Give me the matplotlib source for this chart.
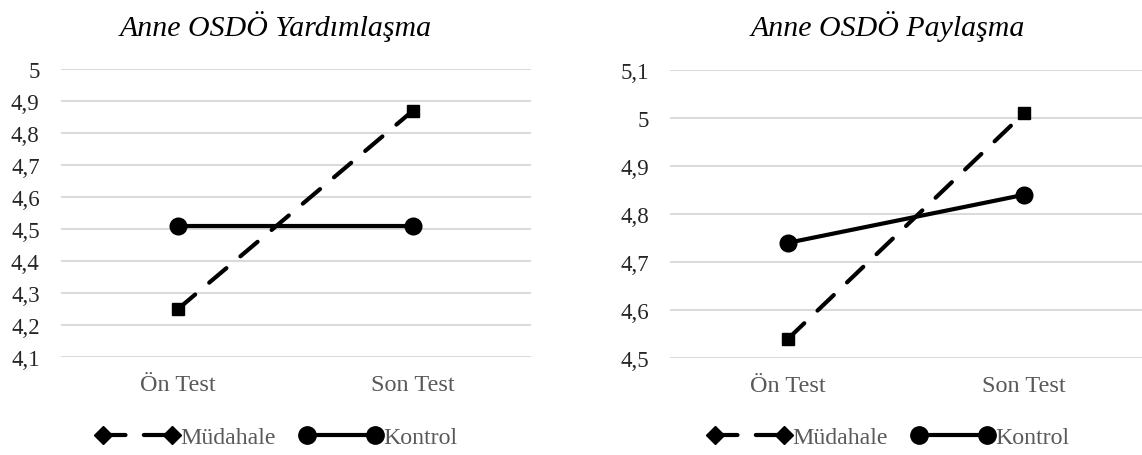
# coding=utf8
import matplotlib
matplotlib.use('Agg')
import matplotlib.pyplot as plt
from matplotlib.lines import Line2D
from matplotlib.ticker import FuncFormatter, MultipleLocator

plt.rcParams['font.family'] = ['Liberation Serif', 'DejaVu Serif']

categories = ['Ön Test', 'Son Test']
series_names = ['Müdahale', 'Kontrol']

yardim_mudahale = [4.25, 4.87]
yardim_kontrol = [4.51, 4.51]
yardim_ticks = [4.1, 4.2, 4.3, 4.4, 4.5, 4.6, 4.7, 4.8, 4.9, 5.0]

paylas_mudahale = [4.54, 5.01]
paylas_kontrol = [4.74, 4.84]
paylas_ticks = [4.5, 4.6, 4.7, 4.8, 4.9, 5.0, 5.1]

titles = ['Anne OSDÖ Yardımlaşma', 'Anne OSDÖ Paylaşma']

W, H = 1142, 456
fig = plt.figure(figsize=(W / 100, H / 100), dpi=100)

DASH = (0, (5.4, 4.4))
LW = 3.0


def comma_fmt(v, pos):
    s = '%.1f' % v
    if s.endswith('.0'):
        s = s[:-2]
    return s.replace('.', ',')


def draw_panel(rect, mud, kon, ticks, title, title_x, legend_x):
    ax = fig.add_axes(rect)
    x = [0, 1]
    ax.plot(x, mud, color='black', linewidth=LW, linestyle=DASH,
            dash_capstyle='round', marker='s', markersize=9, zorder=3)
    ax.plot(x, kon, color='black', linewidth=LW, marker='o',
            markersize=12, zorder=3)
    ax.set_xlim(-0.5, 1.5)
    ax.set_ylim(ticks[0], ticks[-1])
    ax.yaxis.set_major_locator(MultipleLocator(0.1))
    ax.yaxis.set_major_formatter(FuncFormatter(comma_fmt))
    ax.set_xticks(x)
    ax.set_xticklabels(categories)
    ax.grid(True, axis='y', color='#d9d9d9', linewidth=1.4)
    ax.set_axisbelow(True)
    for s in ax.spines.values():
        s.set_visible(False)
    ax.tick_params(axis='y', length=0, pad=15, labelsize=16.5,
                   labelcolor='#262626')
    ax.tick_params(axis='x', length=0, pad=12, labelsize=17.5,
                   labelcolor='#595959')
    fig.text(title_x / W, 1 - 27 / H, title, ha='center', va='center',
             fontsize=21.5, style='italic', color='black')
    handles = [
        Line2D([0], [0], color='black', linewidth=LW, linestyle=DASH,
               dash_capstyle='round', marker='D', markersize=9),
        Line2D([0], [0], color='black', linewidth=LW, marker='o',
               markersize=12.5),
    ]
    fig.legend(handles, series_names, loc='center',
               bbox_to_anchor=(legend_x / W, 1 - 438 / H), ncol=2,
               frameon=False, numpoints=2, handlelength=3.47,
               handletextpad=0.05, columnspacing=1.0, prop={'size': 17.2},
               labelcolor='#595959')
    return ax


draw_panel([60.5 / W, 1 - 358 / H, 470 / W, 288 / H],
           yardim_mudahale, yardim_kontrol, yardim_ticks, titles[0], 276, 277)
draw_panel([670 / W, 1 - 359 / H, 472 / W, 288 / H],
           paylas_mudahale, paylas_kontrol, paylas_ticks, titles[1], 888, 889)

fig.savefig('out.png', dpi=100)
plt.close()
